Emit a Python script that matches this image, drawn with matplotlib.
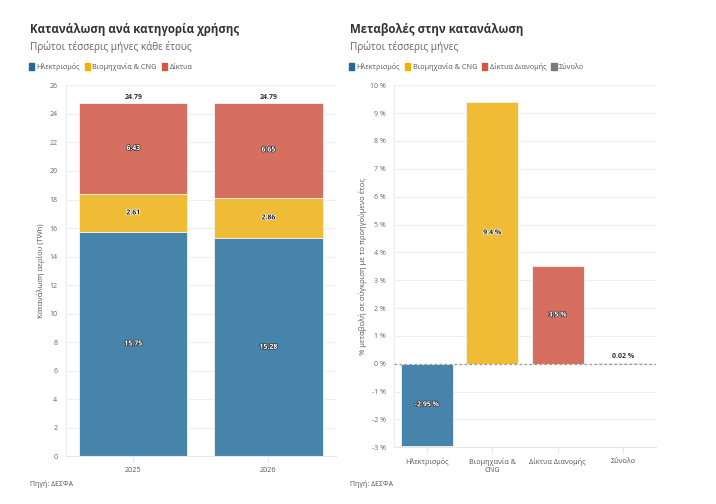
import matplotlib
matplotlib.use("Agg")
import matplotlib.pyplot as plt
import matplotlib.patheffects as pe
from matplotlib.patches import Patch
import numpy as np

plt.rcParams['font.family'] = ['Open Sans', 'Noto Sans', 'DejaVu Sans']

# data
years = ["2025", "2026"]
elec = [15.75, 15.28]
industry = [2.61, 2.86]
networks = [6.43, 6.65]
totals = [24.79, 24.79]

chg_cats = ["Ηλεκτρισμός", "Βιομηχανία &\nCNG", "Δίκτυα Διανομής", "Σύνολο"]
chg_vals = [-2.95, 9.4, 3.5, 0.02]
chg_labels = ["-2.95 %", "9.4 %", "3.5 %", "0.02 %"]

c_blue = "#4784ab"
c_yellow = "#f0bc36"
c_red = "#d76f60"
c_grey = "#8a8a8a"
leg_blue = "#1f6a9a"
leg_yellow = "#f2b200"
leg_red = "#d45543"
leg_grey = "#7a7a7a"

fig = plt.figure(figsize=(7.16, 5.04), dpi=100)

ax1 = fig.add_axes([0.0918, 0.0946, 0.3775, 0.736])
ax2 = fig.add_axes([0.5507, 0.1125, 0.3651, 0.7183])


def style(ax):
    for s in ["top", "right"]:
        ax.spines[s].set_visible(False)
    ax.spines["left"].set_color("#eeeeee")
    ax.spines["bottom"].set_color("#e6e6e6")
    ax.grid(axis="y", color="#eeeeee", linewidth=0.8)
    ax.set_axisbelow(True)
    ax.tick_params(axis="y", length=0, labelsize=5, colors="#666666", pad=6)
    ax.tick_params(axis="x", length=4, color="#e6e6e6", labelsize=5.2, labelcolor="#555555", pad=3.5)


# left chart: stacked bars
x = np.arange(len(years))
w = 0.8
ek = dict(edgecolor="#f4f4f4", linewidth=0.6)
ax1.bar(x, elec, w, color=c_blue, **ek)
ax1.bar(x, industry, w, bottom=elec, color=c_yellow, **ek)
bot2 = [a + b for a, b in zip(elec, industry)]
ax1.bar(x, networks, w, bottom=bot2, color=c_red, **ek)
ax1.set_xlim(-0.5, 1.5)
ax1.set_ylim(0, 26)
ax1.set_yticks(range(0, 27, 2))
ax1.set_xticks(x)
ax1.set_xticklabels(years)
style(ax1)
ax1.set_ylabel("Κατανάλωση αερίου (TWh)", fontsize=5.5, color="#555555", labelpad=3)

dark = [pe.withStroke(linewidth=1.0, foreground="#333333")]
light = [pe.withStroke(linewidth=1.0, foreground="#ffffff")]
for i in range(len(years)):
    ax1.text(x[i], elec[i] / 2, f"{elec[i]:.2f}", ha="center", va="center",
             fontsize=5, fontweight="bold", color="white", path_effects=dark)
    ax1.text(x[i], elec[i] + industry[i] / 2, f"{industry[i]:.2f}", ha="center", va="center",
             fontsize=5, fontweight="bold", color="#222222", path_effects=light)
    ax1.text(x[i], bot2[i] + networks[i] / 2, f"{networks[i]:.2f}", ha="center", va="center",
             fontsize=5, fontweight="bold", color="white", path_effects=dark)
    ax1.text(x[i], totals[i] + 0.15, f"{totals[i]:.2f}", ha="center", va="bottom",
             fontsize=5, fontweight="bold", color="#333333")

# right chart: changes
x2 = np.arange(len(chg_cats))
ax2.bar(x2, chg_vals, w, color=[c_blue, c_yellow, c_red, c_grey], **ek)
ax2.axhline(0, color="#999999", linewidth=0.9, linestyle=(0, (2, 2)), zorder=3)
ax2.set_xlim(-0.5, 3.5)
ax2.set_ylim(-3, 10)
yt = list(range(-3, 11))
ax2.set_yticks(yt)
ax2.set_yticklabels([f"{v} %" for v in yt])
ax2.set_xticks(x2)
ax2.set_xticklabels(chg_cats)
style(ax2)
ax2.set_ylabel("% μεταβολή σε σύγκριση με το προηγούμενο έτος", fontsize=5.5, color="#555555", labelpad=2)

for i, v in enumerate(chg_vals):
    if i == 3:
        ax2.text(x2[i], v + 0.12, chg_labels[i], ha="center", va="bottom",
                 fontsize=5, fontweight="bold", color="#333333")
    elif i == 1:
        ax2.text(x2[i], v / 2, chg_labels[i], ha="center", va="center",
                 fontsize=5, fontweight="bold", color="#222222", path_effects=light)
    else:
        ax2.text(x2[i], v / 2, chg_labels[i], ha="center", va="center",
                 fontsize=5, fontweight="bold", color="white", path_effects=dark)

# titles
fig.text(0.042, 0.935, "Κατανάλωση ανά κατηγορία χρήσης", fontsize=8.3, fontweight="bold",
         color="#333333", va="baseline")
fig.text(0.042, 0.9, "Πρώτοι τέσσερις μήνες κάθε έτους", fontsize=7.2, color="#666666",
         va="baseline")
fig.text(0.489, 0.935, "Μεταβολές στην κατανάλωση", fontsize=8.3, fontweight="bold",
         color="#333333", va="baseline")
fig.text(0.489, 0.9, "Πρώτοι τέσσερις μήνες", fontsize=7.2, color="#666666", va="baseline")

# legends
def legend(x0, names, cols):
    handles = [Patch(facecolor=c, edgecolor=c) for c in cols]
    fig.legend(handles, names, loc="center left", bbox_to_anchor=(x0, 0.867),
               ncol=len(names), frameon=False, fontsize=5.2, handlelength=0.75,
               handleheight=1.2, handletextpad=0.3, columnspacing=0.7,
               borderaxespad=0, borderpad=0, labelcolor="#555555")

legend(0.040, ["Ηλεκτρισμός", "Βιομηχανία & CNG", "Δίκτυα"], [leg_blue, leg_yellow, leg_red])
legend(0.487, ["Ηλεκτρισμός", "Βιομηχανία & CNG", "Δίκτυα Διανομής", "Σύνολο"],
       [leg_blue, leg_yellow, leg_red, leg_grey])

fig.text(0.042, 0.036, "Πηγή: ΔΕΣΦΑ", fontsize=5, color="#555555")
fig.text(0.489, 0.036, "Πηγή: ΔΕΣΦΑ", fontsize=5, color="#555555")

fig.savefig("out.png", dpi=100, facecolor="white")
